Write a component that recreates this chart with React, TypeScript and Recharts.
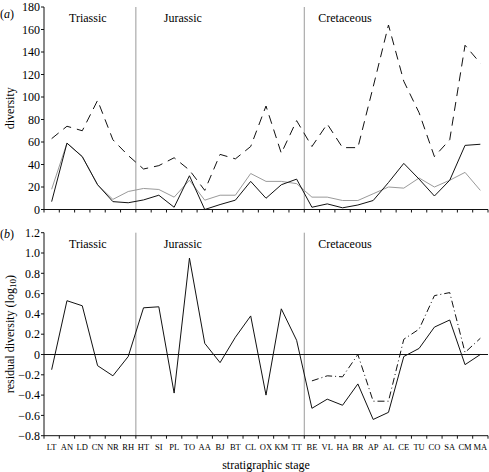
import React from 'react';
import { LineChart, Line, XAxis, YAxis, ReferenceLine } from 'recharts';

const stages = ['LT','AN','LD','CN','NR','RH','HT','SI','PL','TO','AA','BJ','BT','CL','OX','KM','TT','BE','VL','HA','BR','AP','AL','CE','TU','CO','SA','CM','MA'];

const totalDiversity = [63, 74, 70, 97, 62, 48, 36, 39, 46, 35, 17, 49, 45, 56, 92, 50, 79, 56, 76, 55, 55, 109, 164, 114, 86, 47, 62, 146, 130];
const blackDiversity = [7, 59, 47, 22, 7, 6, 8.5, 12.7, 2, 30, 0, 4.4, 8.3, 25, 10, 22, 27, 2, 5, 1.5, 4, 8, 24, 41, 27, 12, 26, 57, 58];
const grayDiversity = [18, 59, 47, 22, 9, 16, 18.7, 17.8, 11, 26, 8.3, 12.7, 12.7, 32, 25, 25, 23, 11, 11, 8, 8, 14, 20, 19, 28, 20, 26, 33, 17];

const residual = [-0.15, 0.53, 0.48, -0.11, -0.21, -0.02, 0.46, 0.47, -0.38, 0.95, 0.11, -0.08, 0.17, 0.38, -0.40, 0.45, 0.14, -0.53, -0.44, -0.50, -0.29, -0.64, -0.57, -0.02, 0.06, 0.27, 0.34, -0.10, 0.0];
const residualCret = [null, null, null, null, null, null, null, null, null, null, null, null, null, null, null, null, null, -0.26, -0.21, -0.22, 0.0, -0.46, -0.46, 0.15, 0.25, 0.58, 0.61, 0.02, 0.16];

const periods = [
  { name: 'Triassic', start: 'LT', dx: 25, line: false },
  { name: 'Jurassic', start: 'HT', dx: 28, line: true },
  { name: 'Cretaceous', start: 'BE', dx: 14, line: true },
];

const topTicks = [0, 20, 40, 60, 80, 100, 120, 140, 160, 180];
const bottomTicks = [-0.8, -0.6, -0.4, -0.2, 0, 0.2, 0.4, 0.6, 0.8, 1.0, 1.2];

const topData = stages.map((s, i) => ({ stage: s, total: totalDiversity[i], black: blackDiversity[i], gray: grayDiversity[i] }));
const bottomData = stages.map((s, i) => ({ stage: s, res: residual[i], res2: residualCret[i] }));

const W = 489;
const Y_AXIS_W = 44;
const RIGHT = 1;
const PLOT_W = W - Y_AXIS_W - RIGHT;
const BW = PLOT_W / stages.length;
const FONT = "'Liberation Serif', 'Times New Roman', serif";
const GRAY = '#9a9a9a';
const INK = '#111';

const StageTick = (props: any) => {
  const { x, y, index, payload, showLabel } = props;
  const left = x - BW / 2;
  const right = x + BW / 2;
  return (
    <g>
      <line x1={left} x2={left} y1={y} y2={y + 3} stroke={INK} strokeWidth={1} />
      {index === stages.length - 1 && (
        <line x1={right} x2={right} y1={y} y2={y + 3} stroke={INK} strokeWidth={1} />
      )}
      {showLabel && (
        <text x={x} y={y + 14} textAnchor="middle" fontSize={8.5} fill="#000" fontFamily={FONT}>
          {payload.value}
        </text>
      )}
    </g>
  );
};

const periodLabel = (name: string, dx: number, dy: number) => (props: any) => {
  const vb = props.viewBox || {};
  return (
    <text x={vb.x + dx} y={vb.y + dy} fontSize={12} fill="#000" fontFamily={FONT} textAnchor="start">
      {name}
    </text>
  );
};

const yLabel = (panel: string, content: React.ReactNode, panelDy: number) => (props: any) => {
  const vb = props.viewBox || {};
  const cx = 10;
  const cy = vb.y + vb.height / 2;
  return (
    <g>
      <text x={0} y={vb.y + panelDy} fontSize={12} fill="#000" fontFamily={FONT}>
        (<tspan fontStyle="italic">{panel}</tspan>)
      </text>
      <text x={cx} y={cy} transform={`rotate(-90, ${cx}, ${cy})`} textAnchor="middle" dominantBaseline="central" fontSize={12} fill="#000" fontFamily={FONT}>
        {content}
      </text>
    </g>
  );
};

const fmtBottom = (v: number) => {
  if (Math.abs(v) < 1e-9) return '0';
  const s = v.toFixed(1);
  return s.startsWith('-') ? '\u2212' + s.slice(1) : s;
};

export default function App() {
  return (
    <div style={{ position: 'absolute', left: 0, top: 0, width: W, height: 472, fontFamily: FONT, background: '#fff' }}>
      <div style={{ position: 'absolute', left: 0, top: 0 }}>
        <LineChart width={W} height={222} data={topData} margin={{ top: 7, right: RIGHT, left: 0, bottom: 0 }}>
          <XAxis
            dataKey="stage"
            scale="band"
            height={12.5}
            interval={0}
            tickSize={0}
            tickMargin={0}
            tickLine={false}
            axisLine={{ stroke: INK }}
            tick={(p: any) => <StageTick {...p} showLabel={false} />}
          />
          <YAxis
            width={Y_AXIS_W}
            domain={[0, 180]}
            ticks={topTicks}
            interval={0}
            tickSize={3}
            tickMargin={1}
            axisLine={{ stroke: INK }}
            tickLine={{ stroke: INK }}
            tick={{ fill: '#000', fontSize: 12, fontFamily: FONT }}
            label={yLabel('a', 'diversity', 11)}
          />
          {periods.map((p) => (
            <ReferenceLine
              key={p.name}
              x={p.start}
              position="start"
              stroke={p.line ? GRAY : 'none'}
              strokeWidth={1}
              label={periodLabel(p.name, p.dx, 14.5)}
            />
          ))}
          <Line dataKey="gray" stroke={GRAY} strokeWidth={1} dot={false} isAnimationActive={false} />
          <Line dataKey="black" stroke={INK} strokeWidth={1} dot={false} isAnimationActive={false} />
          <Line dataKey="total" stroke={INK} strokeWidth={1} strokeDasharray="9 6" dot={false} isAnimationActive={false} />
        </LineChart>
      </div>
      <div style={{ position: 'absolute', left: 0, top: 222 }}>
        <LineChart width={W} height={250} data={bottomData} margin={{ top: 10.7, right: RIGHT, left: 0, bottom: 0 }}>
          <XAxis
            dataKey="stage"
            scale="band"
            height={36.3}
            interval={0}
            tickSize={0}
            tickMargin={0}
            tickLine={false}
            axisLine={{ stroke: INK }}
            tick={(p: any) => <StageTick {...p} showLabel={true} />}
            label={(props: any) => {
              const vb = props.viewBox || {};
              return (
                <text x={vb.x + vb.width / 2} y={vb.y + 33.3} textAnchor="middle" fontSize={12} fill="#000" fontFamily={FONT}>
                  stratigraphic stage
                </text>
              );
            }}
          />
          <YAxis
            width={Y_AXIS_W}
            domain={[-0.8, 1.2]}
            ticks={bottomTicks}
            interval={0}
            tickSize={3}
            tickMargin={1}
            axisLine={{ stroke: INK }}
            tickLine={{ stroke: INK }}
            tick={{ fill: '#000', fontSize: 12, fontFamily: FONT }}
            tickFormatter={fmtBottom}
            label={yLabel('b', <>residual diversity (log<tspan dy={3} fontSize={9}>10</tspan><tspan dy={-3}>)</tspan></>, 5.5)}
          />
          {periods.map((p) => (
            <ReferenceLine
              key={p.name}
              x={p.start}
              position="start"
              stroke={p.line ? GRAY : 'none'}
              strokeWidth={1}
              label={periodLabel(p.name, p.dx, 15.5)}
            />
          ))}
          <ReferenceLine y={0} stroke={INK} strokeWidth={1} />
          <Line dataKey="res" stroke={INK} strokeWidth={1} dot={false} isAnimationActive={false} />
          <Line dataKey="res2" stroke={INK} strokeWidth={1} strokeDasharray="7 3 1 3" dot={false} connectNulls={false} isAnimationActive={false} />
        </LineChart>
      </div>
    </div>
  );
}
